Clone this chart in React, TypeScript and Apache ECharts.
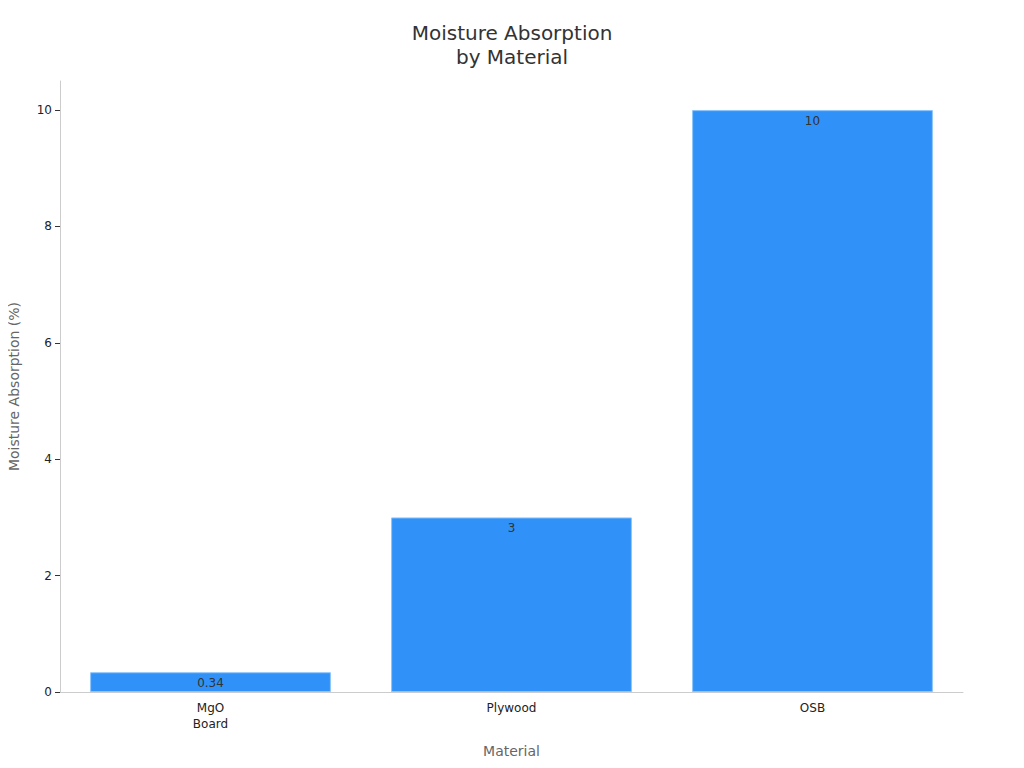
import React, { useEffect, useRef } from 'react';
import * as echarts from 'echarts';

const categories = ['MgO\nBoard', 'Plywood', 'OSB'];
const absorption = [0.34, 3, 10];

const App = () => {
  const chartRef = useRef<HTMLDivElement>(null);

  useEffect(() => {
    if (!chartRef.current) return;
    const chart = echarts.init(chartRef.current, null, { renderer: 'svg' });

    chart.setOption({
      animation: false,
      textStyle: { fontFamily: 'DejaVu Sans' },
      title: {
        text: 'Moisture Absorption\nby Material',
        left: 'center',
        top: 16,
        textStyle: { fontSize: 20, fontWeight: 'normal', color: '#333', lineHeight: 24 },
      },
      grid: { left: 60, right: 61, top: 81, bottom: 76, outerBoundsMode: 'none' },
      xAxis: {
        type: 'category',
        data: categories,
        name: 'Material',
        nameLocation: 'middle',
        nameGap: 52,
        nameTextStyle: { fontSize: 14, color: '#666' },
        axisLine: { lineStyle: { color: '#ccc' } },
        axisTick: { alignWithLabel: true, lineStyle: { color: '#333' } },
        axisLabel: { fontSize: 12, color: '#222', lineHeight: 16 },
      },
      yAxis: {
        type: 'value',
        min: 0,
        max: 10.5,
        interval: 2,
        name: 'Moisture Absorption (%)',
        nameLocation: 'middle',
        nameGap: 39,
        nameTextStyle: { fontSize: 14, color: '#666' },
        axisLine: { show: true, lineStyle: { color: '#ccc' } },
        axisTick: { show: true, lineStyle: { color: '#333' } },
        axisLabel: { fontSize: 12, color: '#222', showMaxLabel: false },
        splitLine: { show: false },
      },
      series: [
        {
          type: 'bar',
          data: absorption,
          barCategoryGap: '20%',
          itemStyle: { color: '#3092F8', borderColor: '#8cc4fb', borderWidth: 1 },
          label: {
            show: true,
            position: 'insideTop',
            distance: 5,
            fontSize: 12,
            color: '#333',
          },
        },
      ],
    });

    return () => chart.dispose();
  }, []);

  return <div ref={chartRef} style={{ width: 1024, height: 768, margin: -8 }} />;
};

export default App;
